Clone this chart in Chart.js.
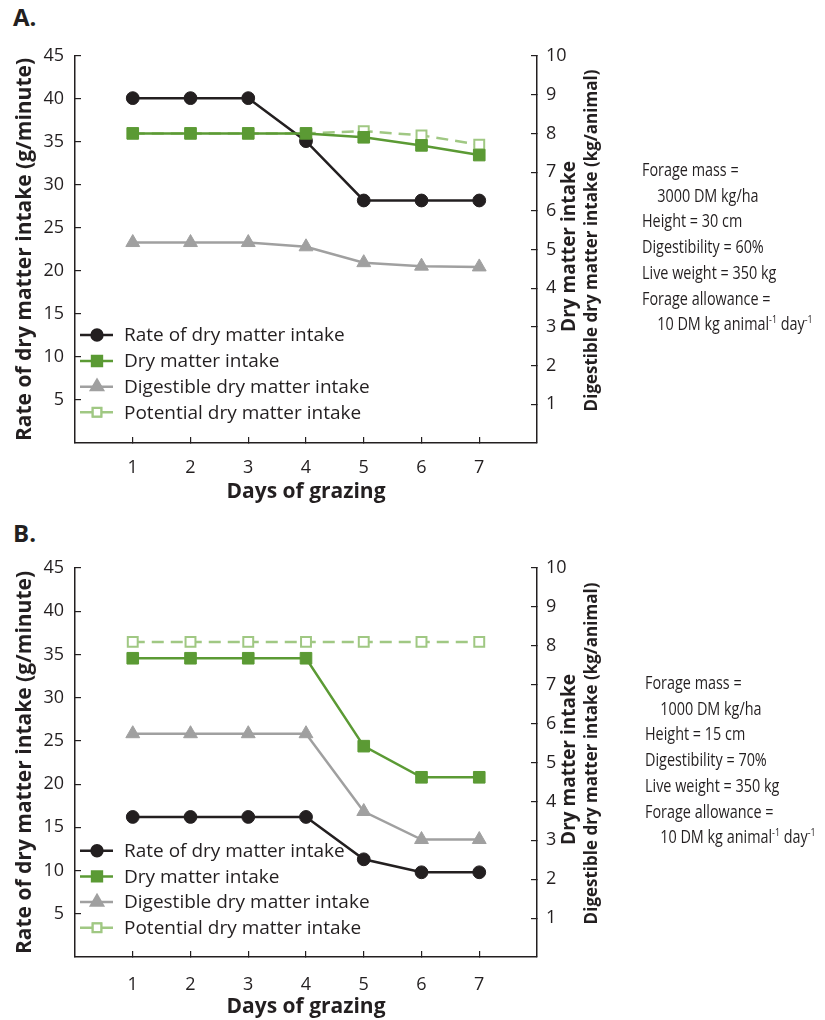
<!DOCTYPE html>
<html lang="en">
<head>
    <meta charset="UTF-8">
    <title>Intake over days of grazing</title>
    <style>
        * {
            margin: 0;
            padding: 0;
            box-sizing: border-box;
        }

        body {
            width: 825px;
            height: 1020px;
            background: #fff;
            position: relative;
            overflow: hidden;
            font-family: "Open Sans", Arial, sans-serif;
            color: #231f20;
        }

        .panel {
            position: absolute;
            left: 0;
            width: 825px;
            height: 510px;
        }

        .panel canvas {
            position: absolute;
            left: 0;
            top: 0;
        }

        /* panel letters */
        .letter {
            position: absolute;
            left: 13px;
            font-weight: bold;
            font-size: 24px;
            line-height: 24px;
        }

        /* pasture conditions text at the right (squeezed, the original face is condensed) */
        .notes {
            position: absolute;
            font-family: "Open Sans", sans-serif;
            font-size: 18px;
            line-height: 25.7px;
            white-space: nowrap;
            transform: scaleX(0.8);
            transform-origin: left top;
        }

        .notes .indent {
            padding-left: 19px;
        }

        .notes sup {
            font-size: 11px;
            line-height: 0;
            vertical-align: 7px;
        }
    </style>
    <script src="https://cdn.jsdelivr.net/npm/chart.js"></script>
</head>
<body>

    <div class="letter" style="top: 5px;">A.</div>
    <div class="panel" style="top: 0;">
        <canvas id="chartA" width="825" height="510"></canvas>
    </div>
    <div class="notes" style="left: 642px; top: 157px;">
        <div>Forage mass =</div>
        <div class="indent">3000 DM kg/ha</div>
        <div>Height = 30 cm</div>
        <div>Digestibility = 60%</div>
        <div>Live weight = 350 kg</div>
        <div>Forage allowance =</div>
        <div class="indent">10 DM kg animal<sup>-1</sup> day<sup>-1</sup></div>
    </div>

    <div class="letter" style="top: 521px;">B.</div>
    <div class="panel" style="top: 510px;">
        <canvas id="chartB" width="825" height="510"></canvas>
    </div>
    <div class="notes" style="left: 645px; top: 670px;">
        <div>Forage mass =</div>
        <div class="indent">1000 DM kg/ha</div>
        <div>Height = 15 cm</div>
        <div>Digestibility = 70%</div>
        <div>Live weight = 350 kg</div>
        <div>Forage allowance =</div>
        <div class="indent">10 DM kg animal<sup>-1</sup> day<sup>-1</sup></div>
    </div>

    <script>
        // Days on the x axis
        const days = [1, 2, 3, 4, 5, 6, 7];

        // Panel A: 3000 DM kg/ha, 30 cm, 60 % digestibility
        const rateA = [40.1, 40.1, 40.1, 35.1, 28.2, 28.2, 28.2];       // g/minute (left axis)
        const dmiA = [8.0, 8.0, 8.0, 8.0, 7.9, 7.69, 7.44];             // kg/animal (right axis)
        const ddmiA = [5.18, 5.18, 5.18, 5.07, 4.66, 4.57, 4.55];       // kg/animal
        const potentialA = [8.0, 8.0, 8.0, 8.0, 8.06, 7.95, 7.71];      // kg/animal

        // Panel B: 1000 DM kg/ha, 15 cm, 70 % digestibility
        const rateB = [16.2, 16.2, 16.2, 16.2, 11.3, 9.8, 9.8];
        const dmiB = [7.68, 7.68, 7.68, 7.68, 5.42, 4.62, 4.62];
        const ddmiB = [5.74, 5.74, 5.74, 5.74, 3.74, 3.02, 3.02];
        const potentialB = [8.1, 8.1, 8.1, 8.1, 8.1, 8.1, 8.1];

        // Axis ticks
        const leftTicks = [5, 10, 15, 20, 25, 30, 35, 40, 45];
        const rightTicks = [1, 2, 3, 4, 5, 6, 7, 8, 9, 10];

        const seriesNames = [
            'Rate of dry matter intake',
            'Dry matter intake',
            'Digestible dry matter intake',
            'Potential dry matter intake'
        ];

        const INK = '#231f20';
        const GREEN = '#5b9a34';
        const LIGHT_GREEN = '#a0c883';
        const GREY = '#a0a0a0';

        function toPoints(values) {
            return days.map((d, i) => ({ x: d, y: values[i] }));
        }

        // Legend inside the plot + the two right-hand axis titles
        const extrasPlugin = {
            id: 'extras',
            afterDraw(chart, args, opts) {
                const ctx = chart.ctx;
                const area = chart.chartArea;

                // legend (drawn in dataset order)
                ctx.save();
                chart.data.datasets.forEach((ds, i) => {
                    const y = opts.legendY[i];
                    ctx.beginPath();
                    ctx.strokeStyle = ds.borderColor;
                    ctx.lineWidth = 2.5;
                    ctx.setLineDash([]);
                    ctx.moveTo(80, y);
                    ctx.lineTo(113, y);
                    ctx.stroke();
                    Chart.helpers.drawPoint(ctx, {
                        pointStyle: ds.pointStyle,
                        radius: ds.pointRadius * 0.85,
                        borderWidth: ds.pointBorderWidth
                    }, 97, y);
                    ctx.fillStyle = ds.pointBackgroundColor;
                    ctx.strokeStyle = ds.pointBorderColor;
                    ctx.lineWidth = ds.pointBorderWidth;
                    ctx.fill();
                    ctx.stroke();

                    ctx.fillStyle = INK;
                    ctx.font = '19px "Open Sans"';
                    ctx.textAlign = 'left';
                    ctx.textBaseline = 'middle';
                    ctx.fillText(ds.label, 124, y + 1);
                });
                ctx.restore();

                // right axis titles
                const midY = (area.top + area.bottom) / 2 - 3;
                ctx.save();
                ctx.fillStyle = INK;
                ctx.textAlign = 'center';
                ctx.textBaseline = 'middle';
                ctx.translate(570, midY);
                ctx.rotate(-Math.PI / 2);
                ctx.font = 'bold 19px "Open Sans"';
                ctx.fillText('Dry matter intake', 0, 0);
                ctx.restore();

                ctx.save();
                ctx.fillStyle = INK;
                ctx.textAlign = 'center';
                ctx.textBaseline = 'middle';
                ctx.translate(592, midY - 6);
                ctx.rotate(-Math.PI / 2);
                ctx.font = 'bold 17px "Open Sans"';
                ctx.fillText('Digestible dry matter intake (kg/animal)', 0, 0);
                ctx.restore();
            }
        };

        function buildChart(canvasId, rate, dmi, ddmi, potential, layoutOpts) {
            const ctx = document.getElementById(canvasId).getContext('2d');
            const canvasHeight = 510;

            const tickFont = { family: '"Open Sans"', size: 18 };

            return new Chart(ctx, {
                type: 'line',
                data: {
                    datasets: [
                        {
                            label: seriesNames[0],
                            data: toPoints(rate),
                            yAxisID: 'yLeft',
                            borderColor: INK,
                            borderWidth: 2.5,
                            pointStyle: 'circle',
                            pointRadius: 6.4,
                            pointBorderWidth: 1,
                            pointBackgroundColor: INK,
                            pointBorderColor: INK,
                            order: 1
                        },
                        {
                            label: seriesNames[1],
                            data: toPoints(dmi),
                            yAxisID: 'yRight',
                            borderColor: GREEN,
                            borderWidth: 2.5,
                            pointStyle: 'rect',
                            pointRadius: 8.2,
                            pointBorderWidth: 1,
                            pointBackgroundColor: GREEN,
                            pointBorderColor: GREEN,
                            order: 0
                        },
                        {
                            label: seriesNames[2],
                            data: toPoints(ddmi),
                            yAxisID: 'yRight',
                            borderColor: GREY,
                            borderWidth: 2.5,
                            pointStyle: 'triangle',
                            pointRadius: 8,
                            pointBorderWidth: 1,
                            pointBackgroundColor: GREY,
                            pointBorderColor: GREY,
                            order: 2
                        },
                        {
                            label: seriesNames[3],
                            data: toPoints(potential),
                            yAxisID: 'yRight',
                            borderColor: LIGHT_GREEN,
                            borderWidth: 2.5,
                            borderDash: [12, 7],
                            pointStyle: 'rect',
                            pointRadius: 7,
                            pointBorderWidth: 2,
                            pointBackgroundColor: '#ffffff',
                            pointBorderColor: LIGHT_GREEN,
                            order: 3
                        }
                    ]
                },
                options: {
                    responsive: false,
                    animation: false,
                    devicePixelRatio: 1,
                    layout: { padding: { top: layoutOpts.top, left: 0, right: 0, bottom: 0 } },
                    plugins: {
                        legend: { display: false },
                        tooltip: { enabled: false },
                        extras: { legendY: layoutOpts.legendY }
                    },
                    scales: {
                        x: {
                            type: 'linear',
                            min: 0,
                            max: 8,
                            afterBuildTicks: (scale) => {
                                scale.ticks = days.map(d => ({ value: d }));
                            },
                            afterFit: (scale) => { scale.height = canvasHeight - layoutOpts.bottom; },
                            border: { color: INK, width: 1.5 },
                            grid: { drawOnChartArea: false, tickLength: -6, color: INK, lineWidth: 1.2 },
                            ticks: { color: INK, font: tickFont, padding: layoutOpts.xTickPad, maxRotation: 0 },
                            title: {
                                display: true,
                                text: 'Days of grazing',
                                color: INK,
                                font: { family: '"Open Sans"', size: 21, weight: 'bold' },
                                padding: { top: 0, bottom: layoutOpts.xTitlePad }
                            }
                        },
                        yLeft: {
                            type: 'linear',
                            position: 'left',
                            min: 0,
                            max: 45,
                            afterBuildTicks: (scale) => {
                                scale.ticks = leftTicks.map(v => ({ value: v }));
                            },
                            afterFit: (scale) => { scale.width = 75; },
                            border: { color: INK, width: 1.5 },
                            grid: { drawOnChartArea: false, tickLength: -6, color: INK, lineWidth: 1.2 },
                            ticks: { color: INK, font: tickFont, padding: 17 },
                            title: {
                                display: true,
                                text: 'Rate of dry matter intake (g/minute)',
                                color: INK,
                                font: { family: '"Open Sans"', size: 21, weight: 'bold' },
                                padding: { top: 12, bottom: 0 }
                            }
                        },
                        yRight: {
                            type: 'linear',
                            position: 'right',
                            min: 0,
                            max: 10,
                            afterBuildTicks: (scale) => {
                                scale.ticks = rightTicks.map(v => ({ value: v }));
                            },
                            afterFit: (scale) => { scale.width = 825 - 537; },
                            border: { color: INK, width: 1.5 },
                            grid: { drawOnChartArea: false, tickLength: -6, color: INK, lineWidth: 1.2 },
                            ticks: { color: INK, font: tickFont, padding: 15 }
                        }
                    }
                },
                plugins: [extrasPlugin]
            });
        }

        buildChart('chartA', rateA, dmiA, ddmiA, potentialA,
            { top: 56, bottom: 443, xTickPad: 20, xTitlePad: 5, legendY: [335, 361, 386.7, 412.3] });
        buildChart('chartB', rateB, dmiB, ddmiB, potentialB,
            { top: 58, bottom: 447, xTickPad: 23, xTitlePad: 0, legendY: [340.7, 366.4, 392, 417.7] });
    </script>

</body>
</html>
